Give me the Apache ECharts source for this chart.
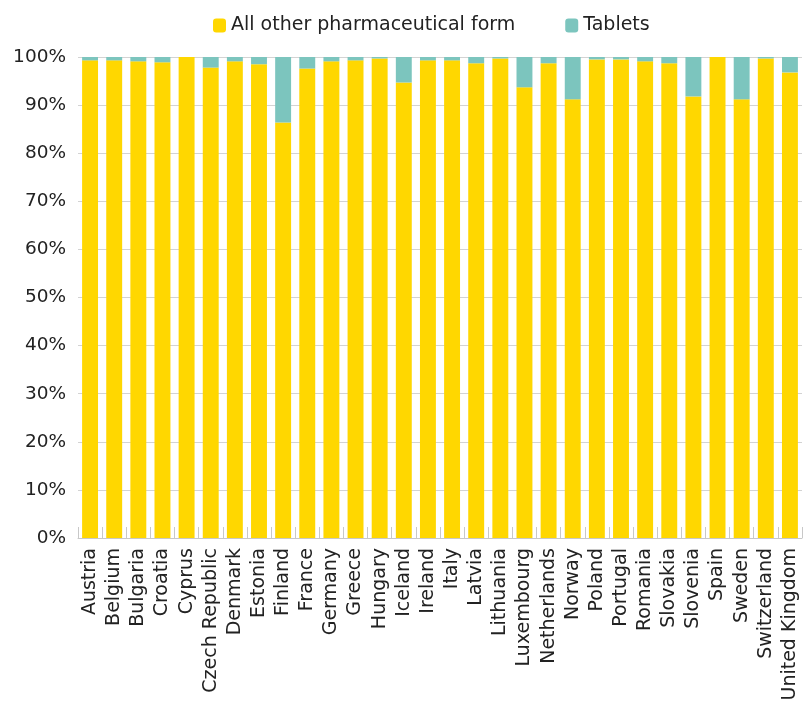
<!DOCTYPE html>
<html><head><meta charset="utf-8">
<script src="https://cdn.jsdelivr.net/npm/echarts@6/dist/echarts.min.js"></script>
<style>html,body{margin:0;padding:0;background:#fff}#c{width:811px;height:707px}</style>
</head><body><div id="c"></div>
<script>
const categories = ["Austria","Belgium","Bulgaria","Croatia","Cyprus","Czech Republic","Denmark","Estonia","Finland","France","Germany","Greece","Hungary","Iceland","Ireland","Italy","Latvia","Lithuania","Luxembourg","Netherlands","Norway","Poland","Portugal","Romania","Slovakia","Slovenia","Spain","Sweden","Switzerland","United Kingdom"];
const tablets = [0.7,0.7,0.9,1.1,0.0,2.2,0.9,1.5,13.6,2.4,0.9,0.7,0.3,5.3,0.7,0.7,1.3,0.3,6.3,1.3,8.8,0.5,0.5,0.9,1.3,8.2,0.0,8.8,0.3,3.2];
const otherForms = tablets.map(v => +(100 - v).toFixed(1));
const seriesNames = ["All other pharmaceutical form","Tablets"];
const yTicks = {min:0, max:100, interval:10};

const chart = echarts.init(document.getElementById('c'));
const font = 'DejaVu Sans';
chart.setOption({
  animation:false,
  textStyle:{fontFamily:font},
  legend:{
    top:11, left:208, itemWidth:13, itemHeight:14, itemGap:50,
    textStyle:{fontFamily:font, fontSize:19, color:'#222'},
    data:seriesNames
  },
  grid:{left:78, right:9, top:57, bottom:169, containLabel:false},
  xAxis:{
    type:'category', data:categories,
    axisLine:{lineStyle:{color:'#c8c8c8'}},
    axisTick:{show:true, inside:true, length:11, lineStyle:{color:'#c8c8c8'}},
    axisLabel:{rotate:90, fontFamily:font, fontSize:19, color:'#222', margin:10, interval:0}
  },
  yAxis:{
    type:'value', min:yTicks.min, max:yTicks.max, interval:yTicks.interval,
    axisLine:{show:false}, axisTick:{show:false},
    splitLine:{lineStyle:{color:'#d3d3d3', width:1}},
    axisLabel:{formatter:'{value}%', fontFamily:font, fontSize:18.5, color:'#222', margin:12}
  },
  series:[
    {name:seriesNames[0], type:'bar', stack:'s', data:otherForms, barWidth:'66%', itemStyle:{color:'#FFD700'}},
    {name:seriesNames[1], type:'bar', stack:'s', data:tablets, barWidth:'66%', itemStyle:{color:'#7CC5BE'}}
  ]
});
</script></body></html>
